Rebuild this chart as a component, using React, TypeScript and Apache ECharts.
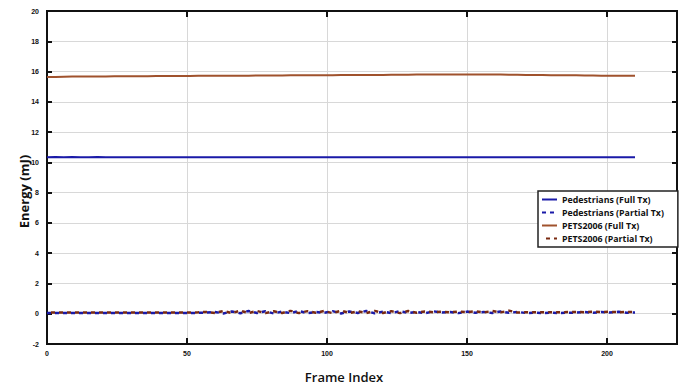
import React, { useEffect, useRef } from "react";
import * as echarts from "echarts";

const frames = [0, 3, 6, 9, 12, 15, 18, 21, 24, 27, 30, 33, 36, 39, 42, 45, 48, 51, 54, 57, 60, 63, 66, 69, 72, 75, 78, 81, 84, 87, 90, 93, 96, 99, 102, 105, 108, 111, 114, 117, 120, 123, 126, 129, 132, 135, 138, 141, 144, 147, 150, 153, 156, 159, 162, 165, 168, 171, 174, 177, 180, 183, 186, 189, 192, 195, 198, 201, 204, 207, 210];

const pedestriansFull = [10.33, 10.35, 10.33, 10.35, 10.33, 10.33, 10.35, 10.33, 10.34, 10.33, 10.33, 10.33, 10.33, 10.33, 10.33, 10.33, 10.33, 10.33, 10.33, 10.33, 10.33, 10.33, 10.33, 10.34, 10.33, 10.33, 10.33, 10.33, 10.33, 10.33, 10.33, 10.34, 10.33, 10.33, 10.34, 10.33, 10.33, 10.33, 10.33, 10.33, 10.33, 10.33, 10.33, 10.33, 10.33, 10.33, 10.34, 10.34, 10.33, 10.33, 10.33, 10.33, 10.33, 10.33, 10.33, 10.33, 10.33, 10.33, 10.33, 10.33, 10.33, 10.33, 10.33, 10.33, 10.33, 10.33, 10.34, 10.33, 10.33, 10.33, 10.33];

const petsFull = [15.64, 15.64, 15.66, 15.68, 15.68, 15.68, 15.68, 15.68, 15.69, 15.69, 15.69, 15.69, 15.69, 15.70, 15.70, 15.70, 15.71, 15.71, 15.72, 15.72, 15.72, 15.72, 15.73, 15.73, 15.73, 15.74, 15.74, 15.74, 15.74, 15.75, 15.75, 15.75, 15.76, 15.76, 15.76, 15.77, 15.77, 15.77, 15.78, 15.78, 15.78, 15.79, 15.79, 15.79, 15.80, 15.80, 15.80, 15.81, 15.81, 15.81, 15.81, 15.81, 15.80, 15.80, 15.80, 15.79, 15.79, 15.78, 15.77, 15.77, 15.76, 15.76, 15.75, 15.75, 15.74, 15.74, 15.73, 15.73, 15.72, 15.72, 15.72];

const pedestriansPartial = [0.05, 0.05, 0.05, 0.05, 0.05, 0.05, 0.05, 0.05, 0.05, 0.05, 0.05, 0.05, 0.05, 0.05, 0.05, 0.05, 0.05, 0.05, 0.06, 0.08, 0.12, 0.02, 0.15, 0.03, 0.18, 0.05, 0.16, 0.02, 0.14, 0.04, 0.18, 0.03, 0.12, 0.06, 0.17, 0.02, 0.15, 0.05, 0.18, 0.03, 0.14, 0.04, 0.17, 0.05, 0.12, 0.03, 0.16, 0.08, 0.12, 0.04, 0.14, 0.06, 0.12, 0.05, 0.15, 0.06, 0.12, 0.05, 0.06, 0.05, 0.06, 0.05, 0.06, 0.08, 0.12, 0.06, 0.12, 0.08, 0.13, 0.06, 0.08];

const petsPartial = [0.08, 0.08, 0.08, 0.08, 0.08, 0.08, 0.08, 0.08, 0.08, 0.08, 0.08, 0.08, 0.08, 0.08, 0.08, 0.08, 0.08, 0.08, 0.09, 0.12, 0.05, 0.18, 0.04, 0.2, 0.05, 0.18, 0.04, 0.16, 0.05, 0.19, 0.04, 0.17, 0.06, 0.18, 0.04, 0.2, 0.05, 0.16, 0.04, 0.19, 0.05, 0.17, 0.04, 0.18, 0.07, 0.15, 0.1, 0.14, 0.09, 0.15, 0.1, 0.16, 0.08, 0.18, 0.09, 0.2, 0.08, 0.1, 0.09, 0.1, 0.09, 0.1, 0.11, 0.12, 0.1, 0.14, 0.1, 0.13, 0.1, 0.12, 0.1];

const yTicks = [-2, 0, 2, 4, 6, 8, 10, 12, 14, 16, 18, 20];
const xTicks = [0, 50, 100, 150, 200];

const BLUE = "#1a1aa8";
const BROWN = "#a0522d";
const DARKBROWN = "#7a2a10";

function pairs(ys: number[]) {
  return frames.map((f, i) => [f, ys[i]]);
}

export default function App() {
  const ref = useRef<HTMLDivElement>(null);
  useEffect(() => {
    if (!ref.current) return;
    const chart = echarts.init(ref.current, null, { renderer: "svg" });
    const tickLabel = {
      fontSize: 7,
      fontWeight: "bold" as const,
      color: "#111",
      fontFamily: "Liberation Sans",
    };
    const axisLine = { show: true, onZero: false, lineStyle: { color: "#111", width: 2 } };
    chart.setOption({
      animation: false,
      backgroundColor: "#fff",
      grid: {
        left: 47,
        right: 4,
        top: 11,
        bottom: 43,
        show: true,
        borderColor: "#111",
        borderWidth: 2,
      },
      legend: {
        left: 538,
        top: 191,
        orient: "vertical",
        backgroundColor: "#fff",
        borderColor: "#222",
        borderWidth: 1.5,
        borderRadius: 0,
        padding: [4, 14, 4, 3],
        itemGap: 4,
        itemWidth: 15,
        itemHeight: 9,
        itemStyle: { opacity: 0 },
        textStyle: {
          fontSize: 8.8,
          fontWeight: "bold",
          fontFamily: "Open Sans",
          color: "#111",
        },
        data: [
          "Pedestrians (Full Tx)",
          "Pedestrians (Partial Tx)",
          "PETS2006 (Full Tx)",
          "PETS2006 (Partial Tx)",
        ],
      },
      xAxis: [
        {
          type: "value",
          min: 0,
          max: 225,
          interval: 50,
          name: "Frame Index",
          nameLocation: "middle",
          nameGap: 26,
          nameMoveOverlap: false,
          nameTextStyle: {
            fontSize: 13,
            fontWeight: 600,
            fontFamily: "Open Sans",
            color: "#111",
            padding: [0, 36, 0, 0],
          },
          axisLine,
          axisTick: { show: true, inside: true, length: 6, lineStyle: { color: "#111", width: 2 } },
          axisLabel: {
            ...tickLabel,
            showMaxLabel: false,
            margin: 6,
            formatter: (v: number) => (xTicks.includes(v) ? String(v) : ""),
          },
          splitLine: { show: true, lineStyle: { color: "#d8d8d8", width: 1 } },
        },
        {
          type: "value",
          position: "top",
          min: 0,
          max: 225,
          interval: 50,
          axisLine,
          axisTick: { show: true, inside: true, length: 6, lineStyle: { color: "#111", width: 2 } },
          axisLabel: { show: false },
          splitLine: { show: false },
        },
      ],
      yAxis: [
        {
          type: "value",
          min: -2,
          max: 20,
          interval: 2,
          name: "Energy (mJ)",
          nameLocation: "middle",
          nameGap: 17,
          nameMoveOverlap: false,
          nameTextStyle: {
            fontSize: 13,
            fontWeight: "bold",
            fontFamily: "Open Sans",
            color: "#111",
            padding: [0, 28, 0, 0],
            align: "center",
          },
          nameRotate: 90,
          axisLine,
          axisTick: { show: true, inside: true, length: 5, lineStyle: { color: "#111", width: 2 } },
          axisLabel: {
            ...tickLabel,
            margin: 8,
            formatter: (v: number) => (yTicks.includes(v) ? String(v) : ""),
          },
          splitLine: { show: true, lineStyle: { color: "#d8d8d8", width: 1 } },
        },
        {
          type: "value",
          position: "right",
          min: -2,
          max: 20,
          interval: 2,
          axisLine,
          axisTick: { show: true, inside: true, length: 5, lineStyle: { color: "#111", width: 2 } },
          axisLabel: { show: false },
          splitLine: { show: false },
        },
      ],
      series: [
        {
          name: "Pedestrians (Full Tx)",
          type: "line",
          data: pairs(pedestriansFull),
          symbol: "none",
          color: BLUE,
          lineStyle: { color: BLUE, width: 2 },
        },
        {
          name: "Pedestrians (Partial Tx)",
          type: "line",
          data: pairs(pedestriansPartial),
          symbol: "none",
          color: BLUE,
          lineStyle: { color: BLUE, width: 2.5, type: [4, 4] },
        },
        {
          name: "PETS2006 (Full Tx)",
          type: "line",
          data: pairs(petsFull),
          symbol: "none",
          color: BROWN,
          lineStyle: { color: BROWN, width: 2 },
        },
        {
          name: "PETS2006 (Partial Tx)",
          type: "line",
          data: pairs(petsPartial),
          symbol: "none",
          color: DARKBROWN,
          lineStyle: { color: DARKBROWN, width: 2.5, type: [4, 4], dashOffset: 4 },
        },
      ],
    });
    return () => chart.dispose();
  }, []);
  return (
    <div
      ref={ref}
      style={{ position: "fixed", left: 0, top: 0, width: 681, height: 388 }}
    />
  );
}
